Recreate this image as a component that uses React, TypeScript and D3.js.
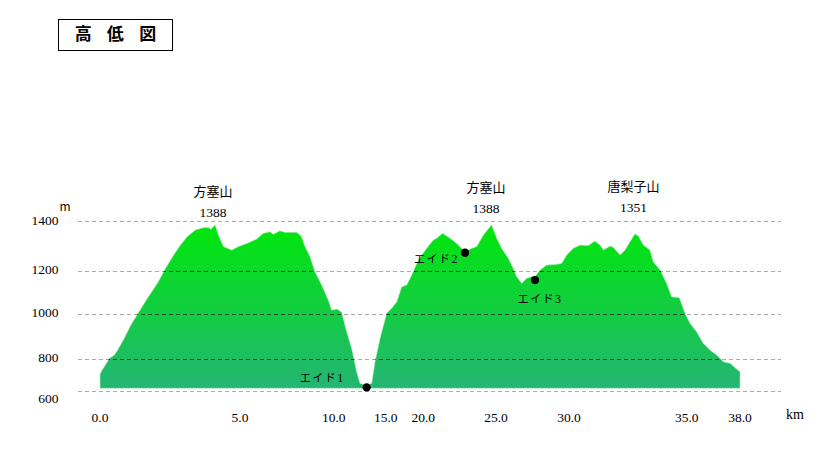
import React from "react";
import * as d3 from "d3";

// ---- data ----
const kmTicks = [0, 5, 10, 15, 20, 25, 30, 35, 38];
const elevTicks = [600, 800, 1000, 1200, 1400];

const profileKm = [0,0.04,0.15,0.33,0.51,0.63,0.86,1.10,1.39,1.69,2.05,2.34,2.63,2.87,3.11,3.40,3.70,3.88,3.96,4.11,4.23,4.41,4.71,4.94,5.36,5.89,6.24,6.60,6.78,7.13,7.40,8.03,8.29,8.47,8.74,9.00,9.36,9.71,9.89,10.35,10.77,11.25,11.73,12.21,12.53,13.17,13.65,13.97,14.45,15.13,15.80,16.46,17.13,17.79,18.46,19.34,20.23,20.69,20.92,21.33,21.84,22.30,22.87,23.33,23.67,24.13,24.70,25.05,25.39,25.84,26.18,26.42,26.76,27.10,27.45,27.67,28.01,28.47,29.16,29.50,29.84,30.18,30.47,30.82,31.10,31.32,31.46,31.74,31.88,32.17,32.38,32.59,32.80,32.94,33.16,33.44,33.58,33.87,34.15,34.36,34.69,34.93,35.19,35.56,35.93,36.31,36.69,37.06,37.44,37.81,38];
const profileElev = [705,722,753,804,819,841,893,952,1012,1074,1143,1211,1265,1305,1339,1366,1376,1376,1369,1388,1346,1299,1285,1299,1312,1330,1353,1359,1349,1363,1357,1357,1339,1299,1258,1197,1135,1066,1020,1024,1009,923,849,722,649,633,649,785,893,1005,1028,1058,1127,1135,1182,1245,1292,1326,1333,1353,1333,1312,1278,1292,1299,1346,1388,1333,1292,1252,1211,1174,1143,1166,1174,1175,1204,1224,1227,1231,1265,1292,1305,1303,1322,1305,1285,1301,1296,1265,1285,1319,1351,1343,1305,1285,1238,1204,1143,1081,1077,1005,960,923,871,841,819,785,775,739,722];
const profileBase = 617;

const peakNames = ["方塞山", "方塞山", "唐梨子山"];
const peakElev = [1388, 1388, 1351];
const peakKm = [4.04, 24.31, 32.74];

const aidNames = ["エイド", "エイド", "エイド"];
const aidNums = ["1", "2", "3"];
const aidKm = [13.17, 22.87, 27.67];
const aidElev = [623, 1274, 1158];

const title = ["高", "低", "図"];

const CJK = "'Noto Sans CJK JP', 'Noto Sans CJK SC', sans-serif";
const SERIF = "'Liberation Serif', 'Times New Roman', serif";

export default function App() {
  const x = d3
    .scaleLinear()
    .domain(kmTicks)
    .range([100, 240, 333.7, 385.7, 423.3, 496, 569, 686.7, 740]);
  const y = d3
    .scaleLinear()
    .domain(elevTicks)
    .range([391, 359.3, 314.3, 271, 221.7]);

  const pts = profileKm.map((k, i) => [k, profileElev[i]] as [number, number]);
  const area = d3
    .area<[number, number]>()
    .x((d) => x(d[0]))
    .y0(y(profileBase))
    .y1((d) => y(d[1]))
    .curve(d3.curveLinear);
  const areaD = area(pts) || "";

  const peakDy = [0, -4, -5];
  const aidLayout = [
    { dx: -67, dy: -5 },
    { dx: -51, dy: 10.5 },
    { dx: -17.5, dy: 23 },
  ];

  const gridLine = (v: number, color: string, op: number) => {
    const gy = Math.floor(y(v)) + 0.5;
    return (
      <line
        key={v}
        x1={78}
        x2={781}
        y1={gy}
        y2={gy}
        stroke={color}
        strokeOpacity={op}
        strokeWidth={1}
        strokeDasharray="4,3"
        shapeRendering="crispEdges"
      />
    );
  };

  return (
    <div style={{ position: "absolute", left: 0, top: 0 }}>
      <svg width={839} height={449} style={{ display: "block", background: "#fff" }}>
        <defs>
          <linearGradient id="fillGrad" gradientUnits="userSpaceOnUse" x1={0} y1={y(1390)} x2={0} y2={y(profileBase)}>
            <stop offset="0%" stopColor="#00e70b" />
            <stop offset="100%" stopColor="#24b574" />
          </linearGradient>
          <clipPath id="areaClip">
            <path d={areaD} />
          </clipPath>
        </defs>

        {/* title box */}
        <rect x={58.5} y={19.5} width={114} height={31} fill="#fff" stroke="#000" strokeWidth={1} />
        <text
          x={[83.3, 115.3, 147.7].join(" ")}
          y={39.8}
          textAnchor="middle"
          fontFamily={CJK}
          fontWeight="bold"
          fontSize={17}
          fill="#000"
        >
          {title.join("")}
        </text>

        {/* profile */}
        <path d={areaD} fill="url(#fillGrad)" stroke="rgba(190,240,190,0.8)" strokeWidth={0.8} />

        {/* grid */}
        <g>{elevTicks.map((v) => gridLine(v, "#000", 0.33))}</g>
        <g clipPath="url(#areaClip)">{elevTicks.map((v) => gridLine(v, "#123a1c", 0.75))}</g>

        {/* y labels */}
        {elevTicks.map((v, i) => (
          <text
            key={v}
            x={58.5}
            y={y(v) + (i === 0 ? 12 : 3)}
            textAnchor="end"
            fontFamily={SERIF}
            fontSize={13.5}
            fill="#000"
          >
            {v}
          </text>
        ))}
        <text x={65} y={210.5} textAnchor="middle" fontFamily={CJK} fontSize={12} fill="#000">
          m
        </text>

        {/* x labels */}
        {kmTicks.map((t) => (
          <text key={t} x={x(t)} y={422} textAnchor="middle" fontFamily={SERIF} fontSize={13.5} fill="#000">
            {t.toFixed(1)}
          </text>
        ))}
        <text x={795} y={419} textAnchor="middle" fontFamily={SERIF} fontSize={14} fill="#000">
          km
        </text>

        {/* peaks */}
        {peakNames.map((n, i) => (
          <g key={i}>
            <text
              x={x(peakKm[i])}
              y={196 + peakDy[i]}
              textAnchor="middle"
              fontFamily={CJK}
              fontSize={13}
              fill="#000"
            >
              {n}
            </text>
            <text
              x={x(peakKm[i])}
              y={217 + peakDy[i]}
              textAnchor="middle"
              fontFamily={SERIF}
              fontSize={13.5}
              fill="#000"
            >
              {peakElev[i]}
            </text>
          </g>
        ))}

        {/* aid stations */}
        {aidNames.map((n, i) => {
          const cx = x(aidKm[i]);
          const cy = y(aidElev[i]);
          return (
            <g key={i}>
              <circle cx={cx} cy={cy} r={4.2} fill="#000" />
              <text x={cx + aidLayout[i].dx} y={cy + aidLayout[i].dy} fill="#000">
                <tspan fontFamily={CJK} fontSize={11} letterSpacing={1.5}>
                  {n}
                </tspan>
                <tspan fontFamily={SERIF} fontSize={12}>
                  {aidNums[i]}
                </tspan>
              </text>
            </g>
          );
        })}
      </svg>
    </div>
  );
}
